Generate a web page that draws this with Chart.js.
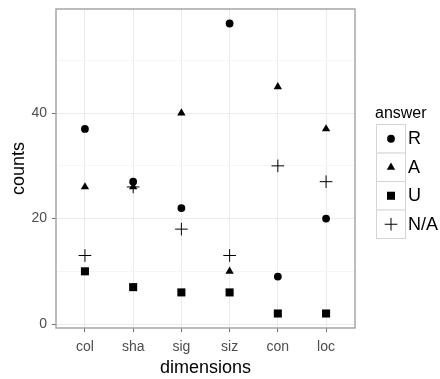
<!DOCTYPE html>
<html>
<head>
<meta charset="utf-8">
<script src="https://cdn.jsdelivr.net/npm/chart.js@4.4.1/dist/chart.umd.min.js"></script>
<style>
  html, body { margin: 0; padding: 0; background: #ffffff; }
  #wrap { position: relative; width: 440px; height: 379px; }
</style>
</head>
<body>
<div id="wrap"><canvas id="c" width="440" height="379"></canvas></div>
<script>
const dimensions = ["col", "sha", "sig", "siz", "con", "loc"];
const answerR   = [37, 27, 22, 57, 9, 20];
const answerA   = [26, 26, 40, 10, 45, 37];
const answerU   = [10, 7, 6, 6, 2, 2];
const answerNA  = [13, 26, 18, 13, 30, 27];
const yTicks = [0, 20, 40];
const yMinorTicks = [10, 30, 50];
const legendTitle = "answer";
const seriesNames = ["R", "A", "U", "N/A"];

const FONT = "'Liberation Sans', Arial, sans-serif";

function pts(arr) { return arr.map((v, i) => ({ x: i + 1, y: v })); }

const styles = [
  { pointStyle: 'circle',   radius: 3.9, borderWidth: 0 },
  { pointStyle: 'triangle', radius: 4.8, borderWidth: 0 },
  { pointStyle: 'rect',     radius: 5.7, borderWidth: 0 },
  { pointStyle: 'cross',    radius: 6.3, borderWidth: 1 }
];
const seriesData = [answerR, answerA, answerU, answerNA];

const datasets = seriesNames.map((name, k) => ({
  label: name,
  data: pts(seriesData[k]),
  pointStyle: styles[k].pointStyle,
  pointRadius: styles[k].radius,
  pointHoverRadius: styles[k].radius,
  pointBorderWidth: styles[k].borderWidth,
  backgroundColor: '#000000',
  borderColor: '#000000',
  showLine: false
}));

const panelPlugin = {
  id: 'panel',
  afterDraw(chart) {
    const { ctx, chartArea: a } = chart;
    ctx.save();
    ctx.strokeStyle = '#a6a6a6';
    ctx.lineWidth = 1.5;
    ctx.strokeRect(a.left, a.top, a.right - a.left, a.bottom - a.top);
    ctx.restore();

    // Legend
    const lx = 376, ly = 124, kw = 29, kh = 28.5;
    ctx.save();
    ctx.fillStyle = '#000000';
    ctx.font = '16px ' + FONT;
    ctx.textBaseline = 'alphabetic';
    ctx.textAlign = 'left';
    ctx.fillText(legendTitle, 375, 118);
    for (let k = 0; k < seriesNames.length; k++) {
      const y0 = ly + k * kh;
      ctx.fillStyle = '#ffffff';
      ctx.fillRect(lx, y0, kw, kh);
      ctx.strokeStyle = '#d4d4d4';
      ctx.lineWidth = 1;
      ctx.strokeRect(lx + 0.5, y0 + 0.5, kw, kh);
      ctx.fillStyle = '#000000';
      ctx.strokeStyle = '#000000';
      ctx.lineWidth = styles[k].borderWidth || 1;
      Chart.helpers.drawPoint(ctx, {
        pointStyle: styles[k].pointStyle,
        radius: styles[k].radius,
        borderWidth: styles[k].borderWidth,
        rotation: 0
      }, lx + kw / 2 + 0.5, y0 + kh / 2 + 0.5);
      ctx.fillStyle = '#000000';
      ctx.font = '18px ' + FONT;
      ctx.textBaseline = 'middle';
      ctx.fillText(seriesNames[k], 408, y0 + kh / 2 + 1);
    }
    ctx.restore();
  }
};

new Chart(document.getElementById('c'), {
  type: 'scatter',
  data: { datasets },
  plugins: [panelPlugin],
  options: {
    responsive: false,
    animation: false,
    events: [],
    layout: { padding: { left: 0, right: 85, top: 9, bottom: 0 } },
    plugins: { legend: { display: false }, tooltip: { enabled: false } },
    scales: {
      x: {
        type: 'linear',
        min: 0.4,
        max: 6.6,
        afterBuildTicks(scale) { scale.ticks = dimensions.map((d, i) => ({ value: i + 1 })); },
        afterFit(scale) { scale.height = 51; scale.paddingLeft = 0; scale.paddingRight = 0; },
        border: { display: false },
        grid: {
          color: '#ebebeb',
          lineWidth: 1,
          tickColor: '#6e6e6e',
          tickLength: 4,
          drawTicks: true
        },
        ticks: {
          autoSkip: false,
          maxRotation: 0,
          padding: 7,
          color: '#4d4d4d',
          font: { family: FONT, size: 14 },
          callback: (v) => dimensions[Math.round(v) - 1] || ''
        },
        title: {
          display: true,
          text: 'dimensions',
          color: '#000000',
          font: { family: FONT, size: 18 },
          padding: { top: 0, bottom: 0 }
        }
      },
      y: {
        type: 'linear',
        min: -0.75,
        max: 59.75,
        afterBuildTicks(scale) {
          scale.ticks = [...yTicks, ...yMinorTicks].sort((a, b) => a - b).map(v => ({ value: v }));
        },
        afterFit(scale) { scale.width = 56; scale.paddingTop = 0; scale.paddingBottom = 0; },
        border: { display: false },
        grid: {
          color: (ctx) => (ctx.tick && yTicks.includes(ctx.tick.value)) ? '#ebebeb' : '#f5f5f5',
          lineWidth: 1,
          tickColor: (ctx) => (ctx.tick && yTicks.includes(ctx.tick.value)) ? '#6e6e6e' : 'rgba(0,0,0,0)',
          tickLength: 4
        },
        ticks: {
          padding: 5,
          color: '#4d4d4d',
          font: { family: FONT, size: 14 },
          callback: (v) => yTicks.includes(v) ? String(v) : ''
        },
        title: {
          display: true,
          text: 'counts',
          color: '#000000',
          font: { family: FONT, size: 18 },
          padding: { top: 8, bottom: 0 }
        }
      }
    }
  }
});
</script>
</body>
</html>
